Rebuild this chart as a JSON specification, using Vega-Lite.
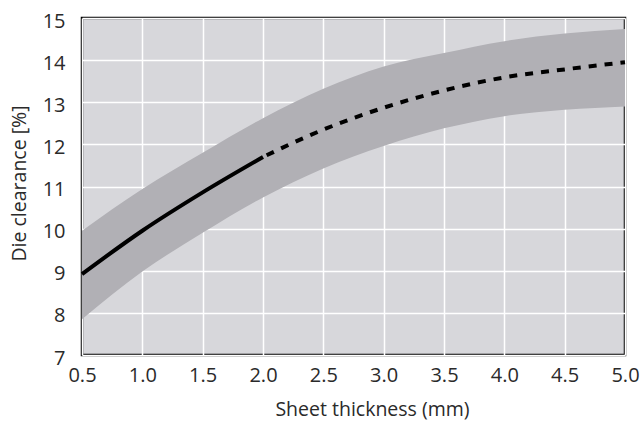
{
  "$schema": "https://vega.github.io/schema/vega-lite/v6.json",
  "width": 543,
  "height": 337,
  "autosize": {"type": "none"},
  "padding": {"left": 82, "top": 18, "right": 15, "bottom": 68},
  "background": "white",
  "config": {
    "view": {"fill": "#d7d7db", "stroke": "black", "strokeWidth": 2.5},
    "font": "Open Sans",
    "axis": {
      "grid": true, "gridColor": "white", "gridWidth": 1.5, "gridOpacity": 1,
      "ticks": false, "domain": false,
      "labelFont": "Open Sans", "labelFontSize": 20, "labelColor": "#2a2a2a",
      "titleFont": "Open Sans", "titleFontSize": 19.5, "titleFontWeight": "normal", "titleColor": "#2a2a2a"
    }
  },
  "data": {
    "values": [
      {"x": 0.5, "mid": 8.92, "lo": 7.85, "hi": 9.95},
      {"x": 1.0, "mid": 9.95, "lo": 8.98, "hi": 10.94},
      {"x": 1.5, "mid": 10.86, "lo": 9.9, "hi": 11.8},
      {"x": 2.0, "mid": 11.7, "lo": 10.74, "hi": 12.62},
      {"x": 2.5, "mid": 12.35, "lo": 11.43, "hi": 13.32},
      {"x": 3.0, "mid": 12.87, "lo": 11.96, "hi": 13.85},
      {"x": 3.5, "mid": 13.28, "lo": 12.38, "hi": 14.17},
      {"x": 4.0, "mid": 13.59, "lo": 12.67, "hi": 14.45},
      {"x": 4.5, "mid": 13.78, "lo": 12.82, "hi": 14.63},
      {"x": 5.0, "mid": 13.95, "lo": 12.9, "hi": 14.74}
    ]
  },
  "encoding": {
    "x": {
      "field": "x", "type": "quantitative",
      "scale": {"domain": [0.5, 5.0], "nice": false, "zero": false},
      "axis": {
        "values": [0.5, 1.0, 1.5, 2.0, 2.5, 3.0, 3.5, 4.0, 4.5, 5.0],
        "format": ".1f", "labelPadding": 10, "labelFlush": false,
        "title": "Sheet thickness (mm)", "titleX": 290, "titleY": 60,
        "titleBaseline": "alphabetic", "titleAnchor": "start", "titleAlign": "center"
      }
    }
  },
  "layer": [
    {
      "mark": {"type": "area", "color": "#b1b0b5", "interpolate": "monotone"},
      "encoding": {
        "y": {
          "field": "lo", "type": "quantitative",
          "scale": {"domain": [7, 15], "nice": false, "zero": false},
          "axis": {
            "values": [7, 8, 9, 10, 11, 12, 13, 14, 15],
            "labelPadding": 17, "labelOffset": 3, "labelFlush": false,
            "title": "Die clearance [%]", "titleX": -57, "titleY": 165,
            "titleAngle": -90, "titleBaseline": "alphabetic", "titleAlign": "center"
          }
        },
        "y2": {"field": "hi"}
      }
    },
    {
      "transform": [{"filter": "datum.x <= 2.0"}],
      "mark": {"type": "line", "color": "black", "strokeWidth": 4, "interpolate": "monotone", "strokeCap": "butt"},
      "encoding": {"y": {"field": "mid", "type": "quantitative"}}
    },
    {
      "transform": [{"filter": "datum.x >= 2.0"}],
      "mark": {"type": "line", "color": "black", "strokeWidth": 4, "interpolate": "monotone", "strokeDash": [8, 8], "strokeDashOffset": -4, "strokeCap": "butt"},
      "encoding": {"y": {"field": "mid", "type": "quantitative"}}
    }
  ]
}
